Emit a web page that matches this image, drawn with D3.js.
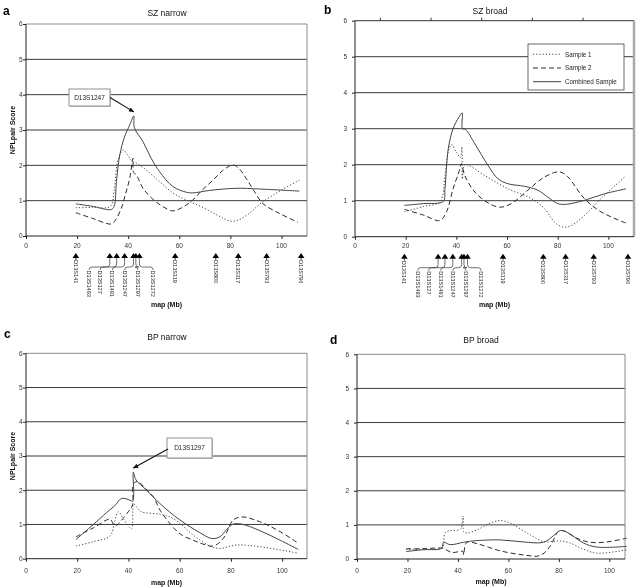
<!DOCTYPE html>
<html><head><meta charset="utf-8">
<script src="https://cdn.jsdelivr.net/npm/d3@7"></script>
<style>body{margin:0;background:#fff}svg{display:block;font-family:"Liberation Sans",Arial,sans-serif;opacity:0.999;will-change:transform}</style>
</head><body><svg id="chart" width="638" height="587"></svg>
<script>
// ---------- data ----------
const yTicks = [0, 1, 2, 3, 4, 5, 6];
const xTicks = [0, 20, 40, 60, 80, 100];
const topTicksB = [10, 30, 50, 70, 90];
const seriesNames = ["Sample 1", "Sample 2", "Combined Sample"];

const markerNames = ["D13S141","D13S1493","D13S127","D13S1491","D13S1247","D13S1297","D13S1272","D13S119","D13S800","D13S317","D13S793","D13S796"];
const markerPos   = [19.5, 32.8, 35.5, 38.6, 42.1, 43.0, 44.4, 58.4, 74.3, 83.1, 94.2, 107.7];
const markerLabelPos = [19.5, 24.7, 29.0, 33.8, 38.6, 43.8, 49.8, 58.4, 74.3, 83.1, 94.2, 107.7];
const markerLeader = [false, true, true, true, true, true, true, false, false, false, false, false];

// SZ narrow
const szNarrowS1 = [[19.5,0.80],[26,0.81],[33,0.84],[34.5,1.3],[36,2.15],[38,2.43],[40,2.27],[41.5,2.12],[43.2,2.06],[46,1.93],[52.3,1.54],[57.5,1.22],[62.7,1.02],[70,0.78],[76,0.55],[80,0.42],[83,0.45],[87,0.62],[92,0.93],[100,1.3],[107,1.58]];
const szNarrowS2 = [[19.5,0.66],[26,0.5],[33.4,0.34],[35,0.45],[37.3,0.78],[39,1.2],[40.6,1.63],[41.9,2.2],[42.1,1.8],[43.2,1.73],[45.8,1.35],[49.7,1.04],[53.6,0.83],[57.5,0.71],[61,0.8],[65.3,1.02],[69,1.3],[73.2,1.58],[77,1.85],[81,2.01],[83.5,1.9],[86.2,1.63],[89.5,1.25],[92.7,0.92],[99.2,0.64],[106.4,0.39]];
const szNarrowComb = [[19.5,0.91],[26,0.84],[33.4,0.75],[34.5,0.84],[35.4,1.54],[36.7,2.29],[38.6,2.81],[40.6,3.14],[42.2,3.40],[42.4,3.07],[45.8,2.67],[49,2.2],[52.3,1.82],[57.5,1.40],[62.7,1.24],[65.3,1.22],[71.9,1.29],[82.3,1.35],[91.4,1.33],[107,1.27]];

// SZ broad
const szBroadS1 = [[19.5,0.69],[27,0.84],[33.5,0.97],[35.5,1.7],[36.8,2.35],[38.1,2.56],[40,2.35],[41.6,2.2],[42.2,2.5],[42.4,1.6],[43.3,2.0],[51.2,1.70],[60.4,1.33],[69.6,1.06],[74.8,0.78],[78.7,0.41],[82,0.27],[85.3,0.31],[90.5,0.59],[97.1,1.06],[106.9,1.69]];
const szBroadS2 = [[19.5,0.76],[27,0.6],[33.5,0.45],[36.1,0.69],[38.7,1.33],[41,1.8],[42,2.03],[43.3,1.70],[47.3,1.24],[52.5,0.94],[57.1,0.82],[61.7,0.92],[68.2,1.29],[74.8,1.66],[80.7,1.80],[84,1.66],[90.5,1.06],[97.1,0.69],[106.9,0.38]];
const szBroadComb = [[19.5,0.87],[27,0.92],[34.8,0.98],[35.5,1.33],[36.8,2.44],[38.7,3.0],[41,3.32],[42.3,3.44],[42.4,3.0],[43.6,2.98],[47.3,2.58],[52.5,1.98],[56.4,1.61],[60.4,1.47],[66.9,1.40],[72.2,1.29],[76.1,1.10],[80,0.92],[83.3,0.90],[90.5,1.01],[98.4,1.19],[106.9,1.33]];

// BP narrow
const bpNarrowS1 = [[19.5,0.37],[26.3,0.5],[32.8,0.66],[34.5,1.05],[36,1.37],[38,1.17],[41.2,0.88],[42.0,1.6],[43.2,1.51],[45.1,1.37],[52.3,1.30],[57.5,1.17],[65.3,0.69],[71.8,0.37],[75.7,0.30],[82.2,0.40],[91.3,0.35],[106.3,0.16]];
const bpNarrowS2 = [[19.5,0.64],[26.3,0.9],[32.8,1.15],[34.7,0.95],[37,1.1],[39.9,1.37],[41.6,1.57],[42.0,2.2],[43.8,2.25],[46.5,2.05],[49.7,1.81],[52.3,1.42],[54.9,1.15],[57.5,0.91],[61,0.68],[65.3,0.54],[69,0.43],[73.1,0.37],[77,0.59],[80.9,1.13],[84.2,1.22],[91.3,1.08],[99.2,0.79],[106.3,0.45]];
const bpNarrowComb = [[19.5,0.56],[26.3,1.0],[31.5,1.35],[34.7,1.55],[37.3,1.76],[40.6,1.71],[41.7,1.68],[41.9,2.53],[42.9,2.31],[47.1,2.0],[52.3,1.61],[60.1,1.13],[67.9,0.76],[72.5,0.59],[75.7,0.64],[78.3,0.85],[80.9,1.01],[84.2,1.01],[91.3,0.82],[99.2,0.54],[106.3,0.27]];

// BP broad
const bpBroadS1 = [[19.5,0.28],[26,0.29],[33.6,0.32],[34.9,0.76],[36.9,0.83],[40.9,0.87],[42.1,1.26],[42.3,0.8],[43.5,0.76],[47.5,0.85],[52.7,1.05],[56.7,1.13],[60.7,1.05],[68.6,0.71],[73.9,0.51],[77.8,0.52],[80.5,0.53],[84.4,0.47],[89.7,0.29],[95,0.17],[106.9,0.27]];
const bpBroadS2 = [[19.5,0.3],[26,0.3],[33.6,0.32],[34.9,0.29],[37.6,0.19],[42.0,0.22],[42.2,0.12],[43.5,0.49],[47.5,0.45],[56.7,0.24],[65.9,0.12],[72.5,0.1],[76.5,0.37],[79.8,0.81],[81.8,0.83],[87.1,0.61],[92.3,0.49],[99,0.5],[106.9,0.61]];
const bpBroadComb = [[19.5,0.22],[26,0.27],[33.6,0.32],[34.3,0.49],[36.9,0.42],[42.2,0.49],[46.1,0.53],[56.7,0.56],[65.9,0.50],[73.9,0.49],[77.8,0.68],[80.5,0.83],[83.1,0.79],[89.7,0.47],[95,0.35],[106.9,0.37]];

// ---------- layout ----------
const panels = [
  {letter:"a", title:"SZ narrow", x0:26, x1:307, xmax:110, yb:236, yt:24, letterX:3, letterY:11, titleX:167, titleY:13,
   ylabX:22.5, xlabY:246, mapY:305, yTitle:true, markers:true, series:[szNarrowS1, szNarrowS2, szNarrowComb],
   note:{text:"D13S1247", bx:69, by:89, bw:41, bh:17, peak:[42.2,3.40]}},
  {letter:"b", title:"SZ broad", x0:355, x1:634, xmax:110.1, yb:236.7, yt:20.7, letterX:324, letterY:10, titleX:490, titleY:11,
   ylabX:347, xlabY:246, mapY:305, yTitle:false, markers:true, series:[szBroadS1, szBroadS2, szBroadComb], topTicks:true, legend:true},
  {letter:"c", title:"BP narrow", x0:26, x1:307, xmax:109.7, yb:558.7, yt:353.3, letterX:4, letterY:334, titleX:167, titleY:337,
   ylabX:22.5, xlabY:571, mapY:583, yTitle:true, markers:false, series:[bpNarrowS1, bpNarrowS2, bpNarrowComb],
   note:{text:"D13S1297", bx:167, by:438, bw:45, bh:20, peak:[41.9,2.53]}},
  {letter:"d", title:"BP broad", x0:357, x1:625, xmax:106.2, yb:559, yt:354.3, letterX:330, letterY:340, titleX:481, titleY:340,
   ylabX:349, xlabY:571, mapY:582, yTitle:false, markers:false, series:[bpBroadS1, bpBroadS2, bpBroadComb]}
];
const styles = [
  {dash:"1.2,2", w:1, c:"#444"},
  {dash:"5,3", w:1, c:"#2a2a2a"},
  {dash:null, w:1, c:"#444"}
];

const svg = d3.select("#chart");
const defs = svg.append("defs");
defs.append("marker").attr("id","ah").attr("viewBox","0 0 10 10").attr("refX",9).attr("refY",5)
  .attr("markerWidth",5).attr("markerHeight",5).attr("orient","auto")
  .append("path").attr("d","M0,1L10,5L0,9z").attr("fill","#111");

panels.forEach(p => {
  const x = d3.scaleLinear().domain([0, p.xmax]).range([p.x0, p.x1]);
  const y = d3.scaleLinear().domain([0, 6]).range([p.yb, p.yt]);
  const g = svg.append("g");

  g.selectAll(".grid").data(yTicks.filter(t => t > 0 && t < 6)).enter().append("line")
    .attr("x1", p.x0).attr("x2", p.x1).attr("y1", d => y(d)).attr("y2", d => y(d))
    .attr("stroke", "#3a3a3a").attr("stroke-width", 1);
  g.append("line").attr("x1", p.x0).attr("x2", p.x1).attr("y1", y(6)).attr("y2", y(6))
    .attr("stroke", p.topTicks ? "#333" : "#8a8a8a").attr("stroke-width", 1);
  if (p.legend) {
    g.append("line").attr("x1", p.x1).attr("x2", p.x1).attr("y1", y(6)).attr("y2", y(0))
      .attr("stroke", "#aaa").attr("stroke-width", 2.5);
  } else {
    g.append("line").attr("x1", p.x1).attr("x2", p.x1).attr("y1", y(6)).attr("y2", y(0))
      .attr("stroke", "#8a8a8a").attr("stroke-width", 1);
  }
  if (p.topTicks) {
    g.selectAll(".tt").data(topTicksB).enter().append("line")
      .attr("x1", d => x(d)).attr("x2", d => x(d)).attr("y1", y(6)).attr("y2", y(6) - 3)
      .attr("stroke", "#333");
  }

  const xAxis = d3.axisBottom(x).tickValues(xTicks).tickSize(3).tickFormat("");
  const yAxis = d3.axisLeft(y).tickValues(yTicks).tickSize(3).tickFormat("");
  g.append("g").attr("transform", `translate(0,${p.yb})`).call(xAxis)
    .call(s => { s.select(".domain").attr("stroke", "#222").attr("d", `M${p.x0},0H${p.x1}`); s.selectAll("line").attr("stroke", "#222"); });
  g.append("g").attr("transform", `translate(${p.x0},0)`).call(yAxis)
    .call(s => { s.select(".domain").attr("stroke", "#222").attr("d", `M0,${p.yb}V${p.yt}`); s.selectAll("line").attr("stroke", "#222"); });

  g.selectAll(".yl").data(yTicks).enter().append("text")
    .attr("x", p.ylabX).attr("y", d => y(d)).attr("dy", "0.35em").attr("text-anchor", "end")
    .attr("font-size", 6.5).attr("fill", "#333").text(d => d);
  g.selectAll(".xl").data(xTicks).enter().append("text")
    .attr("x", d => x(d)).attr("y", p.xlabY).attr("dy", "0.35em").attr("text-anchor", "middle")
    .attr("font-size", 6.5).attr("fill", "#333").text(d => d);

  g.append("text").attr("x", p.letterX).attr("y", p.letterY).attr("dy", "0.35em")
    .attr("font-size", 12).attr("font-weight", "bold").text(p.letter);
  g.append("text").attr("x", p.titleX).attr("y", p.titleY).attr("dy", "0.35em").attr("text-anchor", "middle")
    .attr("font-size", 8.5).attr("fill", "#111").text(p.title);
  g.append("text").attr("x", (p.x0 + p.x1) / 2).attr("y", p.mapY).attr("dy", "0.35em").attr("text-anchor", "middle")
    .attr("font-size", 7).attr("font-weight", "bold").attr("fill", "#111").text("map (Mb)");
  if (p.yTitle) {
    const cy = (p.yb + p.yt) / 2;
    g.append("text").attr("transform", `translate(13,${cy}) rotate(-90)`).attr("dy", "0.35em")
      .attr("text-anchor", "middle").attr("font-size", 7).attr("font-weight", "bold").attr("fill", "#111")
      .text("NPLpair Score");
  }

  const line = d3.line().x(d => x(d[0])).y(d => y(d[1])).curve(d3.curveCatmullRom.alpha(0.5));
  p.series.forEach((s, i) => {
    const st = styles[i];
    g.append("path").datum(s).attr("d", line).attr("fill", "none")
      .attr("stroke", st.c).attr("stroke-width", st.w)
      .attr("stroke-dasharray", st.dash);
  });

  if (p.markers) {
    const tip = p.yb + 17, base = p.yb + 22;
    markerPos.forEach((m, i) => {
      const ax = x(m), lx = x(markerLabelPos[i]);
      g.append("path").attr("d", `M${ax},${tip}L${ax - 3.3},${base}L${ax + 3.3},${base}Z`).attr("fill", "#000");
      let textY;
      if (markerLeader[i]) {
        const hy = p.yb + 31, dir = lx < ax ? -1 : 1;
        g.append("path").attr("d",
          `M${ax},${base}V${hy - 3}Q${ax},${hy} ${ax + 3 * dir},${hy}H${lx - 3 * dir}Q${lx},${hy} ${lx},${hy + 3}`)
          .attr("fill", "none").attr("stroke", "#333").attr("stroke-width", 0.7);
        textY = hy + 3.5;
      } else {
        g.append("line").attr("x1", ax).attr("x2", ax).attr("y1", base).attr("y2", base + 2)
          .attr("stroke", "#000").attr("stroke-width", 0.8);
        textY = base + 2;
      }
      g.append("text").attr("transform", `translate(${lx},${textY}) rotate(90)`).attr("dy", "0.35em")
        .attr("font-size", 5.6).attr("fill", "#222").text(markerNames[i]);
    });
  }

  if (p.note) {
    const n = p.note;
    g.append("rect").attr("x", n.bx + 1).attr("y", n.by + 1).attr("width", n.bw).attr("height", n.bh).attr("fill", "#ccc");
    g.append("rect").attr("x", n.bx).attr("y", n.by).attr("width", n.bw).attr("height", n.bh)
      .attr("fill", "#fff").attr("stroke", "#777").attr("stroke-width", 0.8);
    g.append("text").attr("x", n.bx + n.bw / 2).attr("y", n.by + n.bh / 2).attr("dy", "0.35em")
      .attr("text-anchor", "middle").attr("font-size", 6.5).attr("fill", "#222").text(n.text);
    const px = x(n.peak[0]), py = y(n.peak[1]) - 4;
    const sx = p.letter === "a" ? n.bx + n.bw : n.bx + 1;
    const sy = p.letter === "a" ? n.by + n.bh / 2 : n.by + n.bh / 2 + 1;
    g.append("line").attr("x1", sx).attr("y1", sy).attr("x2", px).attr("y2", py)
      .attr("stroke", "#111").attr("stroke-width", 1.1).attr("marker-end", "url(#ah)");
  }

  if (p.legend) {
    const lg = g.append("g");
    lg.append("rect").attr("x", 528).attr("y", 44).attr("width", 96).attr("height", 46)
      .attr("fill", "#fff").attr("stroke", "#444").attr("stroke-width", 0.8);
    seriesNames.forEach((nm, i) => {
      const ly = 54.3 + i * 13.7, st = styles[i];
      lg.append("line").attr("x1", 533).attr("x2", 561).attr("y1", ly).attr("y2", ly)
        .attr("stroke", st.c).attr("stroke-width", st.w).attr("stroke-dasharray", st.dash);
      lg.append("text").attr("x", 565).attr("y", ly).attr("dy", "0.35em").attr("font-size", 6.3)
        .attr("fill", "#222").text(nm);
    });
  }
});
</script></body></html>
